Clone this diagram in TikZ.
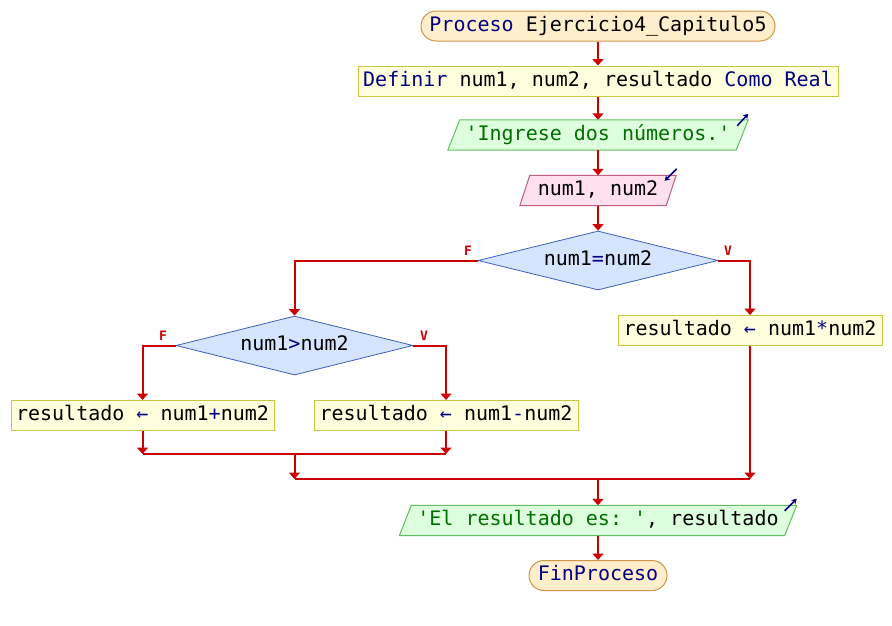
\documentclass[tikz,border=0pt]{standalone}
\usepackage{fontspec}
\setmonofont{DejaVu Sans Mono}
\usetikzlibrary{shapes.geometric,shapes.misc,arrows.meta,calc}
\definecolor{navy}{RGB}{0,0,128}
\definecolor{dgreen}{RGB}{0,110,0}
\definecolor{flowred}{RGB}{204,0,0}
\definecolor{termfill}{RGB}{255,238,204}
\definecolor{termdraw}{RGB}{208,150,70}
\definecolor{procfill}{RGB}{255,255,221}
\definecolor{procdraw}{RGB}{200,200,64}
\definecolor{outfill}{RGB}{221,255,221}
\definecolor{outdraw}{RGB}{96,192,96}
\definecolor{infill}{RGB}{255,224,238}
\definecolor{indraw}{RGB}{192,96,128}
\definecolor{decfill}{RGB}{213,228,255}
\definecolor{decdraw}{RGB}{64,96,192}
\pgfdeclarelayer{bg}\pgfdeclarelayer{paper}\pgfsetlayers{paper,bg,main}
\tikzset{
 base/.style={font=\ttfamily\fontsize{20}{20}\selectfont, inner sep=0pt, minimum height=30pt, text height=14.5pt, text depth=4pt},
 term/.style={base, rounded rectangle, draw=termdraw, fill=termfill, line width=1pt},
 proc/.style={base, rectangle, draw=procdraw, fill=procfill, line width=1pt},
 dec/.style={base, diamond, aspect=4, draw=decdraw, fill=decfill, line width=0.8pt, minimum height=59pt},
 iobox/.style={base, rectangle},
 outpar/.style={draw=outdraw, fill=outfill, line width=1pt},
 inpar/.style={draw=indraw, fill=infill, line width=1pt},
 flow/.style={draw=flowred, line width=2pt, -{Triangle[length=6.5pt,width=11pt]}},
 link/.style={draw=flowred, line width=2pt},
 lab/.style={text=flowred, inner sep=0pt, font=\ttfamily\bfseries\fontsize{13}{13}\selectfont},
 ioarrow/.style={draw=navy, line width=1.5pt, -{Stealth[length=5pt,width=6pt]}}
}
\begin{document}
\begin{tikzpicture}[x=1pt,y=-1pt]
\begin{pgfonlayer}{paper}
\fill[white] (0,0) rectangle (892,625);
\end{pgfonlayer}
\useasboundingbox (0,0) rectangle (892,625);

\node[term, minimum width=354pt] (start) at (598,26) {{\color{navy}Proceso} Ejercicio4\_Capitulo5};
\node[proc, minimum width=480pt] (def) at (598,81) {{\color{navy}Definir} num1, num2, resultado {\color{navy}Como Real}};
\node[iobox, minimum width=288pt] (out1) at (598,135) {\color{dgreen}'Ingrese dos números.'};
\node[iobox, minimum width=146pt] (in1) at (598,190.5) {num1, num2};
\node[dec, minimum width=240pt] (d1) at (598,260.5) {num1{\color{navy}=}num2};
\node[proc, minimum width=264pt] (b3) at (750,330.5) {resultado {\color{navy}←} num1{\color{navy}*}num2};
\node[dec, minimum width=237pt] (d2) at (294.5,345.5) {num1{\color{navy}>}num2};
\node[proc, minimum width=263pt] (b1) at (142.5,415.5) {resultado {\color{navy}←} num1{\color{navy}+}num2};
\node[proc, minimum width=264pt] (b2) at (446,415.5) {resultado {\color{navy}←} num1{\color{navy}-}num2};
\node[iobox, minimum width=385pt] (out2) at (598,520.5) {{\color{dgreen}'El resultado es: '}, resultado};
\node[term, minimum width=138pt] (end) at (598,575.5) {\color{navy}FinProceso};

\begin{pgfonlayer}{bg}
\draw[outpar] ($(out1.north west)+(6,0)$) -- ($(out1.north east)+(6,0)$) -- ($(out1.south east)+(-6,0)$) -- ($(out1.south west)+(-6,0)$) -- cycle;
\draw[inpar] ($(in1.north west)+(5,0)$) -- ($(in1.north east)+(5,0)$) -- ($(in1.south east)+(-5,0)$) -- ($(in1.south west)+(-5,0)$) -- cycle;
\draw[outpar] ($(out2.north west)+(6,0)$) -- ($(out2.north east)+(6,0)$) -- ($(out2.south east)+(-6,0)$) -- ($(out2.south west)+(-6,0)$) -- cycle;
\end{pgfonlayer}

\draw[ioarrow] ($(out1.north east)+(-5,6)$) -- ($(out1.north east)+(6,-6)$);
\draw[ioarrow] ($(in1.north east)+(5.5,-6.5)$) -- ($(in1.north east)+(-6.5,5.5)$);
\draw[ioarrow] ($(out2.north east)+(-6,5.5)$) -- ($(out2.north east)+(6,-6.5)$);

\node[lab] (f1) at (468,251) {F};
\node[lab] (v1) at (728,251) {V};
\node[lab] (f2) at (163,336) {F};
\node[lab] (v2) at (424,336) {V};

\draw[flow] (start.south) -- (def.north);
\draw[flow] (def.south) -- (out1.north);
\draw[flow] (out1.south) -- (in1.north);
\draw[flow] (in1.south) -- (d1.north);
\draw[flow] (d1.west) -| (d2.north);
\draw[flow] (d1.east) -| (b3.north);
\draw[flow] (d2.west) -| (b1.north);
\draw[flow] (d2.east) -| (b2.north);
\coordinate (m1) at (294.5,454);
\coordinate (m2) at (294.5,479);
\draw[flow] (b1.south) -- (b1.south |- m1);
\draw[flow] (b2.south) -- (b2.south |- m1);
\draw[link] (b1.south |- m1) -- (b2.south |- m1);
\draw[flow] (m1) -- (m2);
\draw[flow] (b3.south) -- (b3.south |- m2);
\draw[link] (m2) -- (b3.south |- m2);
\draw[flow] (out2.north |- m2) -- (out2.north);
\draw[flow] (out2.south) -- (end.north);
\end{tikzpicture}
\end{document}
